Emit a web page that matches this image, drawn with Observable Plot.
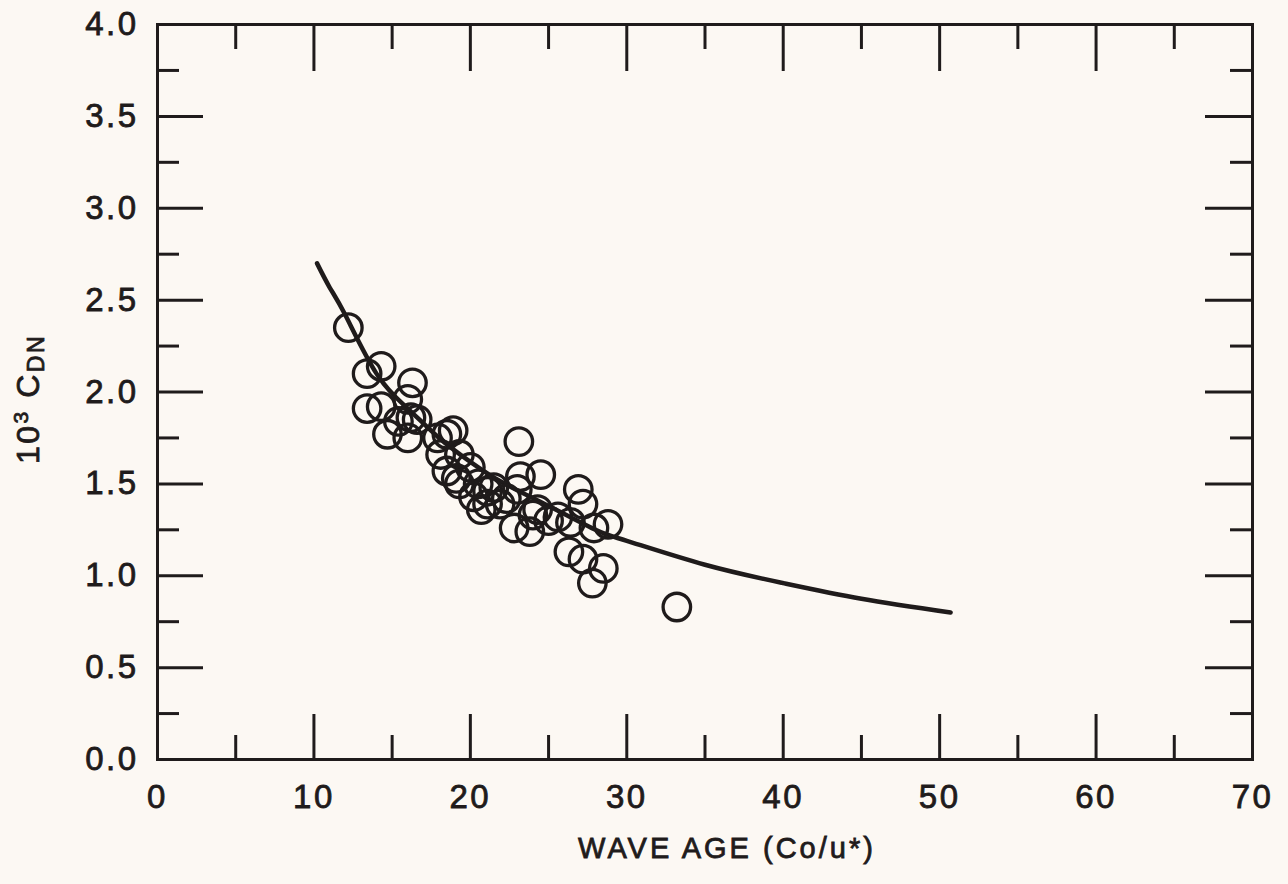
<!DOCTYPE html>
<html>
<head>
<meta charset="utf-8">
<script src="https://cdn.jsdelivr.net/npm/d3@7"></script>
<script src="https://cdn.jsdelivr.net/npm/@observablehq/plot@0.6"></script>
<style>
  html, body { margin: 0; padding: 0; background: #fcf8f3; }
  #chart svg { display: block; }
  #chart svg text { stroke: #1f1b1b; stroke-width: 0.8px; }
</style>
</head>
<body>
<div id="chart"></div>
<script>
// ---- Data ----
const waveAge = [12.2, 13.4, 14.3, 16.3, 13.4, 14.3, 16.0, 16.2, 14.7, 16.0, 15.4, 16.6,
  17.9, 18.5, 18.9, 18.1, 19.3, 18.5, 19.1, 20.0, 19.3, 20.2, 20.7, 21.1, 21.5, 21.1, 21.9,
  23.1, 23.2, 24.5, 23.0, 22.8, 23.8, 24.3, 24.0, 25.6, 26.4, 26.9, 27.2, 28.8, 27.9, 26.3,
  27.2, 28.5, 27.8, 33.2, 20.5, 22.3, 25.0];
const cdn = [2.35, 2.10, 2.14, 2.05, 1.91, 1.92, 1.96, 1.86, 1.77, 1.75, 1.84, 1.85,
  1.75, 1.77, 1.79, 1.66, 1.66, 1.57, 1.53, 1.59, 1.50, 1.43, 1.36, 1.39, 1.48, 1.46, 1.39,
  1.73, 1.54, 1.55, 1.47, 1.26, 1.24, 1.36, 1.33, 1.32, 1.29, 1.47, 1.39, 1.28, 1.26, 1.13,
  1.09, 1.04, 0.96, 0.83, 1.50, 1.42, 1.30];

// fitted curve, points
const curveX = [10.2, 11, 12, 14, 16, 18, 20, 22, 25, 28, 30, 35, 40, 45, 50.7];
const curveY = [2.70, 2.57, 2.42, 2.10, 1.91, 1.75, 1.62, 1.51, 1.38, 1.25, 1.19, 1.06, 0.96, 0.875, 0.80];

// ticks
const xLabels = [0, 10, 20, 30, 40, 50, 60, 70];
const xMajor = [10, 20, 30, 40, 50, 60];
const xMinor = [5, 15, 25, 35, 45, 55, 65];
const yLabels = [0, 0.5, 1.0, 1.5, 2.0, 2.5, 3.0, 3.5, 4.0];
const yMajor = [0.5, 1.0, 1.5, 2.0, 2.5, 3.0, 3.5];
const yMinor = [0.25, 0.75, 1.25, 1.75, 2.25, 2.75, 3.25, 3.75];

const points = waveAge.map((x, i) => ({x, y: cdn[i]}));
const curve = curveX.map((x, i) => ({x, y: curveY[i]}));

// ---- Layout ----
const W = 1288, H = 884;
const mL = 157, mR = 36, mT = 24, mB = 125;
const innerW = W - mL - mR, innerH = H - mT - mB;
const ink = "#1f1b1b";

const chart = Plot.plot({
  width: W, height: H,
  marginLeft: mL, marginRight: mR, marginTop: mT, marginBottom: mB,
  style: {background: "#fcf8f3", color: ink, fontFamily: "'Liberation Sans', Arial, Helvetica, sans-serif", letterSpacing: "2.5px"},
  x: {domain: [0, 70]},
  y: {domain: [0, 4]},
  marks: [
    // inward tick marks
    Plot.ruleX(xMajor, {stroke: ink, strokeWidth: 3, insetTop: innerH - 45}),
    Plot.ruleX(xMajor, {stroke: ink, strokeWidth: 3, insetBottom: innerH - 47}),
    Plot.ruleX(xMinor, {stroke: ink, strokeWidth: 3, insetTop: innerH - 24}),
    Plot.ruleX(xMinor, {stroke: ink, strokeWidth: 3, insetBottom: innerH - 25}),
    Plot.ruleY(yMajor, {stroke: ink, strokeWidth: 3, insetRight: innerW - 46}),
    Plot.ruleY(yMajor, {stroke: ink, strokeWidth: 3, insetLeft: innerW - 47}),
    Plot.ruleY(yMinor, {stroke: ink, strokeWidth: 3, insetRight: innerW - 22}),
    Plot.ruleY(yMinor, {stroke: ink, strokeWidth: 3, insetLeft: innerW - 22}),
    Plot.frame({stroke: ink, strokeWidth: 3}),
    Plot.axisX(xLabels, {tickSize: 0, tickPadding: 25, fontSize: 33, label: null, tickFormat: d => String(d)}),
    Plot.axisY(yLabels, {tickSize: 0, tickPadding: 19, fontSize: 33, label: null, tickFormat: d3.format(".1f")}),
    Plot.line(curve, {x: "x", y: "y", curve: "natural", stroke: ink, strokeWidth: 4.5}),
    Plot.dot(points, {x: "x", y: "y", r: 13.75, stroke: ink, strokeWidth: 3.3, fill: "none"})
  ]
});

document.getElementById("chart").appendChild(chart);

// ---- axis titles ----
const svg = d3.select(chart);
svg.append("text")
  .attr("x", 727).attr("y", 858)
  .attr("text-anchor", "middle")
  .attr("fill", ink)
  .style("font-size", "29px")
  .style("letter-spacing", "3px")
  .text("WAVE AGE (Co/u*)");

const yt = svg.append("text")
  .attr("transform", "translate(39,399) rotate(-90)")
  .attr("text-anchor", "middle")
  .attr("fill", ink)
  .style("font-size", "32px")
  .style("letter-spacing", "2.5px");
yt.append("tspan").text("10");
yt.append("tspan").attr("dy", "-11").style("font-size", "21px").text("3");
yt.append("tspan").attr("dy", "11").text(" C");
yt.append("tspan").attr("dy", "5").style("font-size", "23px").text("DN");
</script>
</body>
</html>
